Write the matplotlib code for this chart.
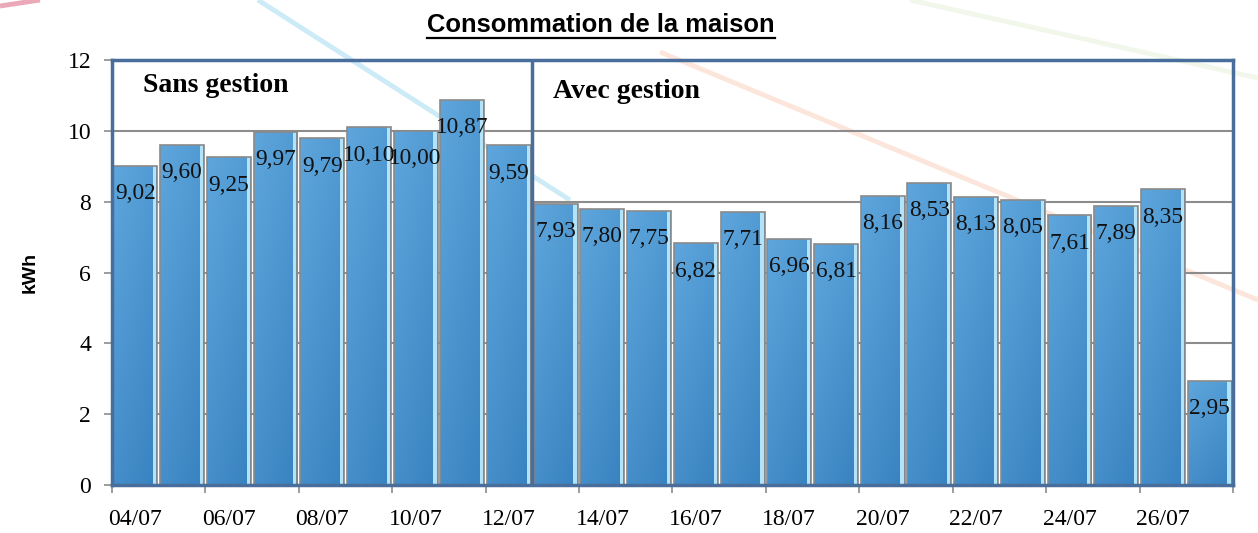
import matplotlib.pyplot as plt
import numpy as np
from matplotlib.lines import Line2D
from matplotlib.colors import LinearSegmentedColormap

# donnees
jours = ['04/07', '05/07', '06/07', '07/07', '08/07', '09/07', '10/07', '11/07',
         '12/07', '13/07', '14/07', '15/07', '16/07', '17/07', '18/07', '19/07',
         '20/07', '21/07', '22/07', '23/07', '24/07', '25/07', '26/07', '27/07']
conso = [9.02, 9.60, 9.25, 9.97, 9.79, 10.10, 10.00, 10.87, 9.59,
         7.93, 7.80, 7.75, 6.82, 7.71, 6.96, 6.81, 8.16, 8.53, 8.13,
         8.05, 7.61, 7.89, 8.35, 2.95]
nb_sans = 9
zones = ['Sans gestion', 'Avec gestion']

W, H = 1258, 533
fig = plt.figure(figsize=(W/100, H/100), dpi=100)

# lignes decoratives du fond
def ligne(x1, y1, x2, y2, c, lw, a=1):
    fig.add_artist(Line2D([x1/W, x2/W], [1-y1/H, 1-y2/H], transform=fig.transFigure,
                          color=c, lw=lw, alpha=a, zorder=-1, solid_capstyle='butt'))
ligne(258, 0, 570, 200, '#cdebf7', 3.5)
ligne(660, 52, 1258, 300, '#fce6dc', 3.5)
ligne(910, 0, 1258, 78, '#f1f7ea', 3.5)
ligne(0, 6, 40, 0, '#eaa8b8', 3.5)

ax = fig.add_axes([112/W, 48/H, 1121/W, 425/H])
ax.set_facecolor('none')

x = np.arange(len(conso))
largeur = 0.94
barres = ax.bar(x, conso, width=largeur, color='#4a94cf', linewidth=0, zorder=3)

yy, xx = np.mgrid[0:1:200j, 0:1:50j]
grad = 0.65*yy + 0.35*(1-xx)
cmap = LinearSegmentedColormap.from_list('bleu', ['#3882c0', '#5ea6dc'])
for b in barres:
    x0, w, h = b.get_x(), b.get_width(), b.get_height()
    im = ax.imshow(grad, extent=[x0, x0+w, 0, h], origin='lower', cmap=cmap,
                   aspect='auto', zorder=3.1)
    im.set_clip_path(b)
    ax.bar(x0+w-0.09, h, width=0.07, align='edge', color='#b3e3f8', lw=0, zorder=3.2)
ax.bar(x, conso, width=largeur, fill=False, edgecolor='#8a8a8a', linewidth=1.2, zorder=3.5)

for xi, v in zip(x, conso):
    ax.annotate(f"{v:.2f}".replace('.', ','), (xi, v), xytext=(0, -20),
                textcoords='offset points', ha='center', va='center', fontsize=16.8,
                family='Liberation Serif', color='#111111', zorder=5)

ax.set_xlim(-0.5, len(conso)-0.5)
ax.set_ylim(0, 12)
ax.set_yticks(range(0, 13, 2))
ax.yaxis.grid(True, color='#8c8c8c', lw=1.5, zorder=1)
ax.set_axisbelow(True)

ax.set_xticks(np.arange(-0.5, len(conso), 2))
ax.set_xticklabels([])
ax.set_xticks(x[::2], minor=True)
ax.set_xticklabels(jours[::2], minor=True, fontsize=17, family='Liberation Serif')
ax.tick_params(axis='x', which='major', length=6, color='#8c8c8c', width=1.2)
ax.tick_params(axis='x', which='minor', length=0, pad=17)
ax.tick_params(axis='y', length=6, color='#8c8c8c', width=1.2, pad=9)
for lab in ax.get_yticklabels():
    lab.set_fontsize(17)
    lab.set_family('Liberation Serif')

bleu = '#4a6e9b'
for s in ax.spines.values():
    s.set_color(bleu)
    s.set_linewidth(2.5)
    s.set_zorder(6)
ax.axvline(nb_sans-0.5, color=bleu, lw=2.5, zorder=6)

ax.text(0.16, 11.29, zones[0], ha='left', va='center', fontsize=20,
        fontweight='bold', family='Liberation Serif')
ax.text(8.94, 11.12, zones[1], ha='left', va='center', fontsize=20,
        fontweight='bold', family='Liberation Serif')

fig.text(30/W, 1-272/H, 'kWh', rotation=90, ha='center', va='center',
         fontsize=14, fontweight='bold', family='Liberation Sans')
titre = fig.text(601/W, 1-25/H, 'Consommation de la maison', ha='center', va='center',
                 fontsize=18.4, fontweight='bold', family='Liberation Sans')

fig.canvas.draw()
bb = titre.get_window_extent()
fig.add_artist(Line2D([bb.x0/W, bb.x1/W], [(bb.y0-1)/H, (bb.y0-1)/H],
                      transform=fig.transFigure, color='black', lw=1.6))

fig.savefig('out.png', dpi=100)
